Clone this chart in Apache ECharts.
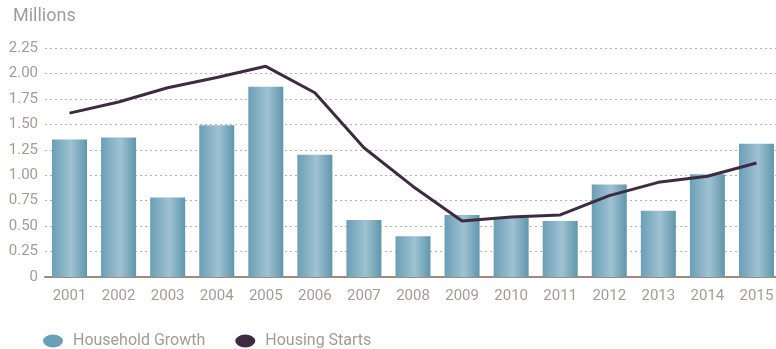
<!DOCTYPE html>
<html>
<head>
<meta charset="utf-8">
<script src="https://cdn.jsdelivr.net/npm/echarts@6/dist/echarts.min.js"></script>
<style>
  html, body { margin: 0; padding: 0; background: #ffffff; }
  #chart { width: 776px; height: 349px; }
</style>
</head>
<body>
<div id="chart"></div>
<script>
// Household formation vs. new housing starts, in millions
const years = ['2001','2002','2003','2004','2005','2006','2007','2008','2009','2010','2011','2012','2013','2014','2015'];
const householdGrowth = [1.35, 1.37, 0.78, 1.49, 1.87, 1.20, 0.56, 0.40, 0.61, 0.58, 0.55, 0.91, 0.65, 1.01, 1.31];
const housingStarts = [1.61, 1.72, 1.86, 1.96, 2.07, 1.81, 1.27, 0.89, 0.55, 0.59, 0.61, 0.80, 0.93, 0.99, 1.12];
const yTickLabels = ['0', '0.25', '0.50', '0.75', '1.00', '1.25', '1.50', '1.75', '2.00', '2.25'];

const textColor = '#a29c96';
const font = 'Roboto';
const barSolid = '#68a0b7';
const lineColor = '#3e2b42';
const ellipseIcon = 'path://M0,6a10,6 0 1,0 20,0a10,6 0 1,0 -20,0z';

const chart = echarts.init(document.getElementById('chart'), null, { renderer: 'canvas' });

chart.setOption({
  backgroundColor: '#ffffff',
  animation: false,
  title: {
    text: 'Millions',
    left: 8,
    top: 2,
    textStyle: { color: textColor, fontSize: 18, fontWeight: 'normal', fontFamily: font }
  },
  legend: {
    left: 38,
    top: 328,
    itemWidth: 20,
    itemHeight: 13,
    itemGap: 30,
    symbolKeepAspect: false,
    textStyle: { color: textColor, fontSize: 16, fontFamily: font, padding: [0, 0, 0, 5] },
    data: [
      { name: 'Household Growth', icon: ellipseIcon, itemStyle: { color: barSolid } },
      { name: 'Housing Starts', icon: ellipseIcon, itemStyle: { color: lineColor } }
    ]
  },
  // the plot area runs slightly past the right edge of the canvas
  grid: { left: 45, top: 48, width: 736, height: 229, containLabel: false, outerBoundsMode: 'none' },
  xAxis: {
    type: 'category',
    data: years,
    axisLine: { show: true, lineStyle: { color: '#a08a7c', width: 2 } },
    axisTick: { show: false },
    axisLabel: { color: textColor, fontSize: 15, fontFamily: font, margin: 12 }
  },
  yAxis: {
    type: 'value',
    min: 0,
    max: 2.25,
    interval: 0.25,
    axisLine: { show: false },
    axisTick: { show: false },
    axisLabel: {
      color: textColor, fontSize: 15, fontFamily: font, margin: 7,
      formatter: (v) => yTickLabels[Math.round(v / 0.25)]
    },
    splitLine: { show: true, lineStyle: { color: '#b8b0a8', type: [2, 3], width: 1 } }
  },
  series: [
    {
      name: 'Household Growth',
      type: 'bar',
      data: householdGrowth,
      barWidth: 35,
      itemStyle: {
        color: new echarts.graphic.LinearGradient(0, 0, 1, 0, [
          { offset: 0, color: '#6a9fb6' },
          { offset: 0.55, color: '#9fc2d2' },
          { offset: 1, color: '#5f96ad' }
        ])
      }
    },
    {
      name: 'Housing Starts',
      type: 'line',
      data: housingStarts,
      symbol: 'none',
      lineStyle: { color: lineColor, width: 3 },
      itemStyle: { color: lineColor }
    }
  ]
});
</script>
</body>
</html>
